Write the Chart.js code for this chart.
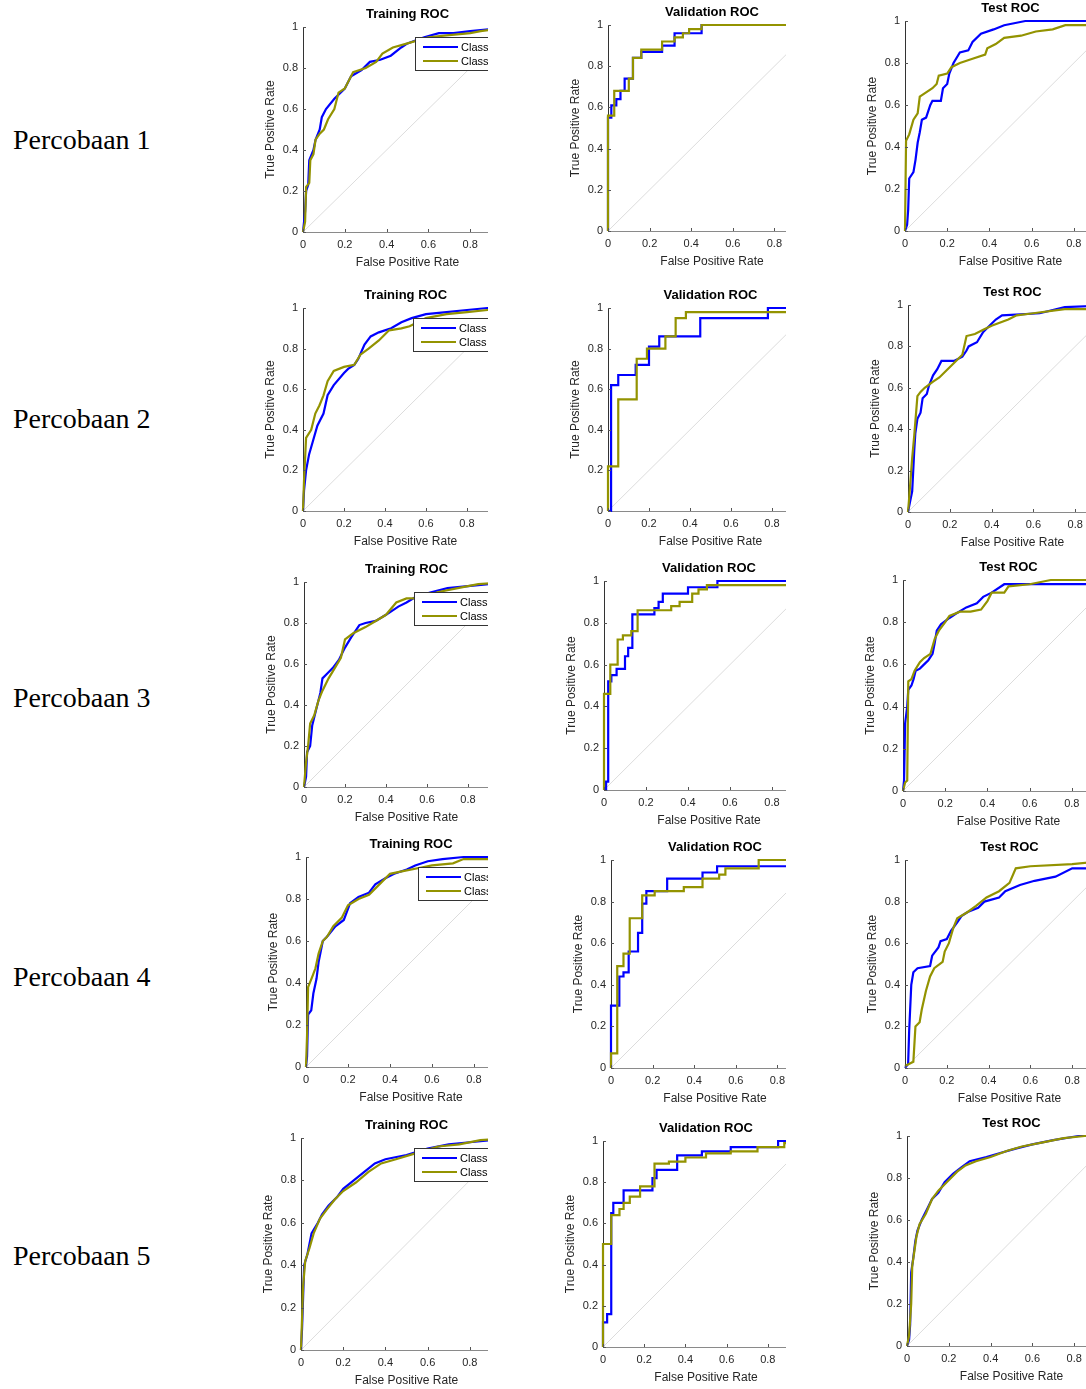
<!DOCTYPE html>
<html>
<head>
<meta charset="utf-8">
<script src="https://cdn.jsdelivr.net/npm/chart.js@4"></script>
<style>
  html, body { margin: 0; padding: 0; background: #fff; }
  body { width: 1086px; height: 1389px; position: relative; overflow: hidden; }
  .row-label { position: absolute; left: 13px; font-family: "Liberation Serif", serif; font-size: 28px; color: #000; white-space: nowrap; }
  .panel { position: absolute; overflow: hidden; }
  .panel canvas { position: absolute; }
</style>
</head>
<body>
<script>
// ---- data ----
const rowLabels = ['Percobaan 1', 'Percobaan 2', 'Percobaan 3', 'Percobaan 4', 'Percobaan 5'];
const panelTitles = ['Training ROC', 'Validation ROC', 'Test ROC'];
const legendLabels = ['Class 1', 'Class 2'];
const axisTicks = [0, 0.2, 0.4, 0.6, 0.8, 1];
const chanceLine = [[0, 0], [1, 1]];

// [fpr, tpr] pairs
const p1TrainC1 = [[0,0],[0.01,0.1],[0.015,0.2],[0.025,0.23],[0.03,0.35],[0.05,0.4],[0.06,0.45],[0.08,0.5],[0.09,0.56],[0.11,0.6],[0.15,0.65],[0.2,0.7],[0.23,0.76],[0.28,0.79],[0.32,0.83],[0.37,0.84],[0.42,0.86],[0.47,0.9],[0.5,0.92],[0.58,0.95],[0.65,0.97],[0.72,0.97],[0.8,0.98],[0.9,0.99],[1,1]];
const p1TrainC2 = [[0,0],[0.01,0.05],[0.015,0.22],[0.03,0.24],[0.035,0.35],[0.05,0.38],[0.06,0.45],[0.08,0.48],[0.1,0.5],[0.12,0.55],[0.15,0.6],[0.17,0.68],[0.2,0.7],[0.24,0.78],[0.3,0.8],[0.35,0.83],[0.38,0.87],[0.43,0.9],[0.5,0.92],[0.6,0.95],[0.7,0.96],[0.8,0.97],[0.85,0.98],[1,1]];
const p1ValC1 = [[0,0],[0,0.55],[0.016,0.61],[0.04,0.64],[0.06,0.68],[0.08,0.74],[0.12,0.84],[0.16,0.87],[0.26,0.9],[0.32,0.96],[0.45,1],[1,1]];
const p1ValC2 = [[0,0],[0,0.56],[0.03,0.68],[0.1,0.74],[0.12,0.84],[0.16,0.88],[0.26,0.92],[0.32,0.94],[0.36,0.96],[0.39,0.98],[0.45,1],[1,1]];
const p1TestC1 = [[0,0],[0.01,0.03],[0.015,0.1],[0.02,0.25],[0.04,0.28],[0.05,0.34],[0.06,0.42],[0.07,0.47],[0.08,0.53],[0.1,0.54],[0.12,0.6],[0.13,0.62],[0.17,0.62],[0.18,0.68],[0.2,0.7],[0.21,0.75],[0.23,0.8],[0.26,0.85],[0.3,0.86],[0.32,0.9],[0.36,0.94],[0.42,0.96],[0.47,0.98],[0.57,1],[1,1]];
const p1TestC2 = [[0,0],[0.005,0.43],[0.02,0.46],[0.04,0.53],[0.06,0.56],[0.07,0.64],[0.1,0.66],[0.13,0.68],[0.15,0.7],[0.16,0.74],[0.2,0.75],[0.22,0.78],[0.26,0.8],[0.32,0.82],[0.38,0.84],[0.39,0.87],[0.43,0.89],[0.47,0.92],[0.55,0.93],[0.62,0.95],[0.7,0.96],[0.76,0.98],[0.9,0.98],[1,1]];

const p2TrainC1 = [[0,0],[0.005,0.1],[0.015,0.2],[0.03,0.28],[0.05,0.35],[0.07,0.42],[0.1,0.48],[0.12,0.57],[0.15,0.62],[0.2,0.68],[0.22,0.7],[0.25,0.72],[0.27,0.75],[0.3,0.82],[0.33,0.86],[0.37,0.88],[0.43,0.9],[0.48,0.93],[0.53,0.95],[0.6,0.97],[0.7,0.98],[0.8,0.99],[0.9,1],[1,1]];
const p2TrainC2 = [[0,0],[0.005,0.15],[0.015,0.36],[0.04,0.4],[0.06,0.48],[0.08,0.52],[0.1,0.57],[0.12,0.64],[0.15,0.69],[0.2,0.71],[0.25,0.72],[0.28,0.77],[0.32,0.8],[0.37,0.84],[0.42,0.89],[0.48,0.9],[0.52,0.91],[0.6,0.95],[0.7,0.97],[0.8,0.98],[0.9,0.99],[1,1]];
const p2ValC1 = [[0,0],[0.015,0.62],[0.05,0.67],[0.135,0.72],[0.2,0.81],[0.25,0.86],[0.45,0.95],[0.78,1],[1,1]];
const p2ValC2 = [[0,0],[0,0.22],[0.05,0.55],[0.14,0.75],[0.19,0.8],[0.28,0.86],[0.33,0.95],[0.38,0.98],[1,0.98]];
const p2TestC1 = [[0,0],[0.01,0.05],[0.02,0.1],[0.03,0.3],[0.035,0.38],[0.045,0.45],[0.06,0.48],[0.07,0.55],[0.09,0.57],[0.1,0.61],[0.12,0.66],[0.14,0.69],[0.16,0.73],[0.22,0.73],[0.26,0.75],[0.28,0.78],[0.29,0.8],[0.33,0.82],[0.36,0.87],[0.39,0.9],[0.42,0.93],[0.45,0.95],[0.63,0.96],[0.75,0.99],[1,1]];
const p2TestC2 = [[0,0],[0.005,0.06],[0.02,0.26],[0.03,0.37],[0.045,0.56],[0.06,0.58],[0.08,0.6],[0.12,0.63],[0.15,0.65],[0.18,0.68],[0.22,0.72],[0.26,0.76],[0.28,0.85],[0.32,0.86],[0.36,0.88],[0.4,0.9],[0.48,0.93],[0.52,0.95],[0.6,0.96],[0.75,0.98],[1,0.98]];

const p3TrainC1 = [[0,0],[0.01,0.05],[0.015,0.17],[0.03,0.2],[0.04,0.3],[0.06,0.38],[0.08,0.46],[0.09,0.53],[0.11,0.55],[0.14,0.58],[0.17,0.62],[0.2,0.68],[0.23,0.73],[0.27,0.79],[0.3,0.8],[0.35,0.81],[0.4,0.84],[0.46,0.88],[0.5,0.9],[0.55,0.93],[0.62,0.95],[0.7,0.97],[0.8,0.98],[0.9,0.99],[1,1]];
const p3TrainC2 = [[0,0],[0.01,0.12],[0.02,0.2],[0.03,0.31],[0.05,0.35],[0.07,0.42],[0.09,0.47],[0.12,0.53],[0.15,0.58],[0.18,0.63],[0.2,0.72],[0.24,0.75],[0.3,0.78],[0.35,0.81],[0.4,0.84],[0.45,0.9],[0.5,0.92],[0.58,0.92],[0.65,0.95],[0.75,0.97],[0.85,0.99],[1,1]];
const p3ValC1 = [[0,0],[0.01,0.04],[0.02,0.52],[0.035,0.55],[0.06,0.58],[0.1,0.64],[0.115,0.68],[0.135,0.84],[0.24,0.87],[0.26,0.9],[0.28,0.94],[0.4,0.97],[0.54,1],[1,1]];
const p3ValC2 = [[0,0],[0,0.46],[0.03,0.6],[0.065,0.72],[0.09,0.74],[0.13,0.76],[0.16,0.86],[0.32,0.88],[0.36,0.9],[0.42,0.94],[0.45,0.96],[0.49,0.98],[1,0.98]];
const p3TestC1 = [[0,0],[0.005,0.05],[0.01,0.32],[0.02,0.4],[0.025,0.48],[0.04,0.5],[0.05,0.53],[0.06,0.57],[0.08,0.58],[0.1,0.6],[0.12,0.62],[0.14,0.65],[0.15,0.7],[0.16,0.76],[0.18,0.79],[0.22,0.82],[0.25,0.84],[0.3,0.87],[0.35,0.89],[0.38,0.92],[0.42,0.94],[0.48,0.98],[0.6,0.98],[1,0.98]];
const p3TestC2 = [[0,0],[0.01,0.04],[0.02,0.05],[0.025,0.52],[0.04,0.53],[0.055,0.57],[0.08,0.61],[0.1,0.63],[0.13,0.65],[0.15,0.72],[0.17,0.76],[0.2,0.8],[0.22,0.83],[0.27,0.85],[0.32,0.85],[0.37,0.86],[0.4,0.9],[0.42,0.94],[0.48,0.94],[0.5,0.97],[0.6,0.98],[0.7,1],[1,1]];

const p4TrainC1 = [[0,0],[0.005,0.05],[0.01,0.25],[0.025,0.27],[0.035,0.35],[0.05,0.42],[0.06,0.5],[0.08,0.6],[0.1,0.62],[0.14,0.67],[0.18,0.7],[0.21,0.78],[0.25,0.81],[0.3,0.83],[0.33,0.87],[0.38,0.9],[0.42,0.92],[0.48,0.94],[0.52,0.96],[0.58,0.98],[0.65,0.99],[0.75,1],[1,1]];
const p4TrainC2 = [[0,0],[0.005,0.15],[0.01,0.38],[0.03,0.43],[0.045,0.47],[0.06,0.54],[0.08,0.6],[0.1,0.62],[0.13,0.67],[0.17,0.71],[0.2,0.77],[0.25,0.8],[0.3,0.82],[0.34,0.86],[0.4,0.92],[0.45,0.93],[0.55,0.95],[0.6,0.96],[0.7,0.97],[0.75,0.99],[1,0.99]];
const p4ValC1 = [[0,0],[0,0.3],[0.04,0.44],[0.06,0.46],[0.085,0.56],[0.13,0.65],[0.15,0.79],[0.17,0.85],[0.27,0.91],[0.44,0.94],[0.51,0.97],[1,0.97]];
const p4ValC2 = [[0,0],[0,0.07],[0.03,0.49],[0.06,0.55],[0.09,0.72],[0.15,0.83],[0.21,0.85],[0.35,0.87],[0.44,0.91],[0.52,0.93],[0.55,0.96],[0.71,1],[1,1]];
const p4TestC1 = [[0,0],[0.015,0.02],[0.02,0.18],[0.03,0.4],[0.04,0.46],[0.06,0.48],[0.12,0.49],[0.13,0.54],[0.16,0.58],[0.17,0.61],[0.2,0.62],[0.22,0.66],[0.25,0.7],[0.27,0.73],[0.3,0.75],[0.35,0.77],[0.38,0.8],[0.45,0.82],[0.48,0.85],[0.55,0.88],[0.62,0.9],[0.72,0.92],[0.8,0.96],[1,0.96]];
const p4TestC2 = [[0,0.01],[0.04,0.03],[0.05,0.2],[0.07,0.22],[0.08,0.28],[0.1,0.37],[0.12,0.44],[0.14,0.48],[0.18,0.51],[0.19,0.56],[0.21,0.6],[0.23,0.67],[0.25,0.72],[0.3,0.75],[0.34,0.78],[0.39,0.82],[0.45,0.85],[0.5,0.89],[0.53,0.96],[0.6,0.97],[0.8,0.98],[1,1]];

const p5TrainC1 = [[0,0],[0.005,0.1],[0.01,0.25],[0.015,0.4],[0.03,0.45],[0.05,0.55],[0.08,0.6],[0.1,0.64],[0.13,0.68],[0.17,0.72],[0.2,0.76],[0.25,0.8],[0.3,0.84],[0.35,0.88],[0.4,0.9],[0.5,0.92],[0.6,0.95],[0.7,0.97],[0.8,0.98],[0.9,0.99],[1,1]];
const p5TrainC2 = [[0,0],[0.005,0.15],[0.01,0.3],[0.02,0.42],[0.04,0.48],[0.06,0.55],[0.09,0.62],[0.12,0.66],[0.16,0.71],[0.2,0.75],[0.26,0.79],[0.32,0.84],[0.38,0.88],[0.45,0.9],[0.55,0.93],[0.65,0.96],[0.75,0.97],[0.85,0.99],[1,1]];
const p5ValC1 = [[0,0],[0,0.12],[0.02,0.16],[0.04,0.65],[0.05,0.7],[0.1,0.76],[0.24,0.82],[0.26,0.86],[0.36,0.93],[0.48,0.95],[0.62,0.97],[0.85,1],[1,1]];
const p5ValC2 = [[0,0],[0,0.5],[0.04,0.64],[0.08,0.67],[0.1,0.7],[0.13,0.73],[0.18,0.78],[0.25,0.89],[0.32,0.9],[0.4,0.92],[0.5,0.94],[0.62,0.95],[0.75,0.97],[0.88,0.99],[1,1]];
const p5TestC1 = [[0,0],[0.01,0.03],[0.015,0.1],[0.02,0.35],[0.03,0.42],[0.04,0.5],[0.05,0.55],[0.07,0.6],[0.1,0.66],[0.12,0.7],[0.15,0.73],[0.18,0.78],[0.22,0.82],[0.26,0.85],[0.3,0.88],[0.38,0.9],[0.45,0.92],[0.52,0.94],[0.6,0.96],[0.7,0.98],[0.82,1],[1,1]];
const p5TestC2 = [[0,0],[0.01,0.05],[0.02,0.2],[0.025,0.38],[0.035,0.45],[0.045,0.52],[0.06,0.58],[0.09,0.63],[0.12,0.7],[0.15,0.74],[0.19,0.78],[0.24,0.83],[0.28,0.86],[0.33,0.88],[0.4,0.9],[0.48,0.93],[0.55,0.95],[0.65,0.97],[0.75,0.99],[0.85,1],[1,1]];

const class1Series = [
  [p1TrainC1, p1ValC1, p1TestC1], [p2TrainC1, p2ValC1, p2TestC1], [p3TrainC1, p3ValC1, p3TestC1],
  [p4TrainC1, p4ValC1, p4TestC1], [p5TrainC1, p5ValC1, p5TestC1]
];
const class2Series = [
  [p1TrainC2, p1ValC2, p1TestC2], [p2TrainC2, p2ValC2, p2TestC2], [p3TrainC2, p3ValC2, p3TestC2],
  [p4TrainC2, p4ValC2, p4TestC2], [p5TrainC2, p5ValC2, p5TestC2]
];

// ---- layout (page pixels): [left spine x, y of 1, y of 0, x of 0.8] ----
const boxes = [
  [[303, 27, 232, 470], [608, 25, 231, 774], [905, 21, 231, 1074]],
  [[303, 308, 511, 467], [608, 308, 511, 772], [908, 305, 512, 1075]],
  [[304, 582, 787, 468], [604, 581, 790, 772], [903, 580, 791, 1072]],
  [[306, 857, 1067, 474], [611, 860, 1068, 777], [905, 860, 1068, 1072]],
  [[301, 1138, 1350, 470], [603, 1141, 1347, 768], [907, 1136, 1346, 1074]]
];
const clipRight = [488, 786, 1086];
const labelTops = [124, 403, 682, 961, 1240];

const BLUE = '#0000ff';
const OLIVE = '#939300';
const FONT = '"Liberation Sans", Arial, sans-serif';
const INK = '#262626';

const toPoints = (pairs) => pairs.map((p) => ({ x: p[0], y: p[1] }));

const inwardTicks = {
  id: 'inwardTicks',
  afterDraw(chart) {
    const { ctx, chartArea: a, scales } = chart;
    ctx.save();
    ctx.lineWidth = 1;
    ctx.strokeStyle = '#555';
    axisTicks.forEach((v) => {
      const px = Math.round(scales.x.getPixelForValue(v)) + 0.5;
      ctx.beginPath(); ctx.moveTo(px, a.bottom); ctx.lineTo(px, a.bottom - 3); ctx.stroke();
      const py = Math.round(scales.y.getPixelForValue(v)) + 0.5;
      ctx.beginPath(); ctx.moveTo(a.left, py); ctx.lineTo(a.left + 3, py); ctx.stroke();
    });
    ctx.restore();
  }
};

// title centred over the full axes (MATLAB style), above the plot area
const axesTitle = {
  id: 'axesTitle',
  afterDraw(chart, args, opts) {
    const { ctx, chartArea: a } = chart;
    ctx.save();
    ctx.fillStyle = '#000';
    ctx.font = 'bold 13px ' + FONT;
    ctx.textAlign = 'center';
    ctx.textBaseline = 'middle';
    ctx.fillText(opts.text, (a.left + a.right) / 2, a.top - 13);
    ctx.restore();
  }
};

const rocLegend = {
  id: 'rocLegend',
  afterDraw(chart, args, opts) {
    if (!opts.show) return;
    const { ctx, chartArea: a } = chart;
    const left = a.left + Math.round(a.width * 0.535);
    const top = a.top + 10;
    ctx.save();
    ctx.fillStyle = '#fff';
    ctx.fillRect(left, top, 110, 33);
    ctx.strokeStyle = '#333';
    ctx.lineWidth = 1;
    ctx.strokeRect(left + 0.5, top + 0.5, 110, 33);
    [BLUE, OLIVE].forEach((c, i) => {
      const y = top + 10 + i * 14;
      ctx.strokeStyle = c; ctx.lineWidth = 2;
      ctx.beginPath(); ctx.moveTo(left + 8, y); ctx.lineTo(left + 43, y); ctx.stroke();
      ctx.fillStyle = '#000';
      ctx.font = '11px ' + FONT;
      ctx.textBaseline = 'middle';
      ctx.fillText(legendLabels[i], left + 46, y + 0.5);
    });
    ctx.restore();
  }
};

const tickText = (v) => String(Math.round(v * 10) / 10);

function makeConfig(r, c) {
  const stepped = c === 1 ? 'before' : false;
  return {
    type: 'line',
    data: {
      datasets: [
        { data: toPoints(class2Series[r][c]), borderColor: OLIVE, borderWidth: 2.2, stepped, order: 0 },
        { data: toPoints(class1Series[r][c]), borderColor: BLUE, borderWidth: 2.2, stepped, order: 1 },
        { data: toPoints(chanceLine), borderColor: '#dcdcdc', borderWidth: 1, order: 2 }
      ]
    },
    options: {
      responsive: false,
      maintainAspectRatio: false,
      animation: false,
      layout: { padding: { left: 2, right: 14, top: 26, bottom: 2 } },
      elements: { point: { radius: 0 }, line: { tension: 0, borderJoinStyle: 'miter' } },
      datasets: { line: { clip: 4 } },
      plugins: {
        legend: { display: false },
        tooltip: { enabled: false },
        title: { display: false },
        axesTitle: { text: panelTitles[c] },
        rocLegend: { show: c === 0 }
      },
      scales: {
        x: {
          type: 'linear', min: 0, max: 1,
          afterBuildTicks: (s) => { s.ticks = axisTicks.map((v) => ({ value: v })); },
          afterFit: (s) => { s.height = 38; s.paddingLeft = 0; s.paddingRight = 0; },
          grid: { display: false, drawTicks: false },
          border: { color: '#8a8a8a', width: 1 },
          ticks: { color: INK, font: { family: FONT, size: 11 }, padding: 6, maxRotation: 0, callback: tickText },
          title: { display: true, text: 'False Positive Rate', color: INK, font: { family: FONT, size: 12 }, padding: 0 }
        },
        y: {
          type: 'linear', min: 0, max: 1,
          afterBuildTicks: (s) => { s.ticks = axisTicks.map((v) => ({ value: v })); },
          afterFit: (s) => { s.width = 40; },
          grid: { display: false, drawTicks: false },
          border: { color: '#333', width: 1 },
          ticks: { color: INK, font: { family: FONT, size: 11 }, padding: 5, callback: tickText },
          title: { display: true, text: 'True Positive Rate', color: INK, font: { family: FONT, size: 12 }, padding: 0 }
        }
      }
    },
    plugins: [inwardTicks, axesTitle, rocLegend]
  };
}

rowLabels.forEach((txt, r) => {
  const d = document.createElement('div');
  d.className = 'row-label';
  d.style.top = labelTops[r] + 'px';
  d.textContent = txt;
  document.body.appendChild(d);
});

boxes.forEach((row, r) => {
  row.forEach((b, c) => {
    const [x0, y1, y0, x08] = b;
    const plotW = (x08 - x0) / 0.8;
    const plotH = y0 - y1;
    const wrapLeft = x0 - 70;
    const wrapTop = y1 - 40;
    const wrap = document.createElement('div');
    wrap.className = 'panel';
    wrap.style.left = wrapLeft + 'px';
    wrap.style.top = wrapTop + 'px';
    wrap.style.width = (clipRight[c] - wrapLeft) + 'px';
    wrap.style.height = (plotH + 90) + 'px';
    document.body.appendChild(wrap);

    // first pass: measure the margins Chart.js leaves around the plot area
    let canvas = document.createElement('canvas');
    canvas.width = 300; canvas.height = 300;
    wrap.appendChild(canvas);
    let chart = new Chart(canvas, makeConfig(r, c));
    const a = chart.chartArea;
    const mL = a.left, mT = a.top, mR = 300 - a.right, mB = 300 - a.bottom;
    chart.destroy();
    wrap.removeChild(canvas);

    canvas = document.createElement('canvas');
    canvas.width = Math.round(mL + plotW + mR);
    canvas.height = Math.round(mT + plotH + mB);
    canvas.style.left = Math.round(x0 - mL - wrapLeft) + 'px';
    canvas.style.top = Math.round(y1 - mT - wrapTop) + 'px';
    wrap.appendChild(canvas);
    new Chart(canvas, makeConfig(r, c));
  });
});
</script>
</body>
</html>
